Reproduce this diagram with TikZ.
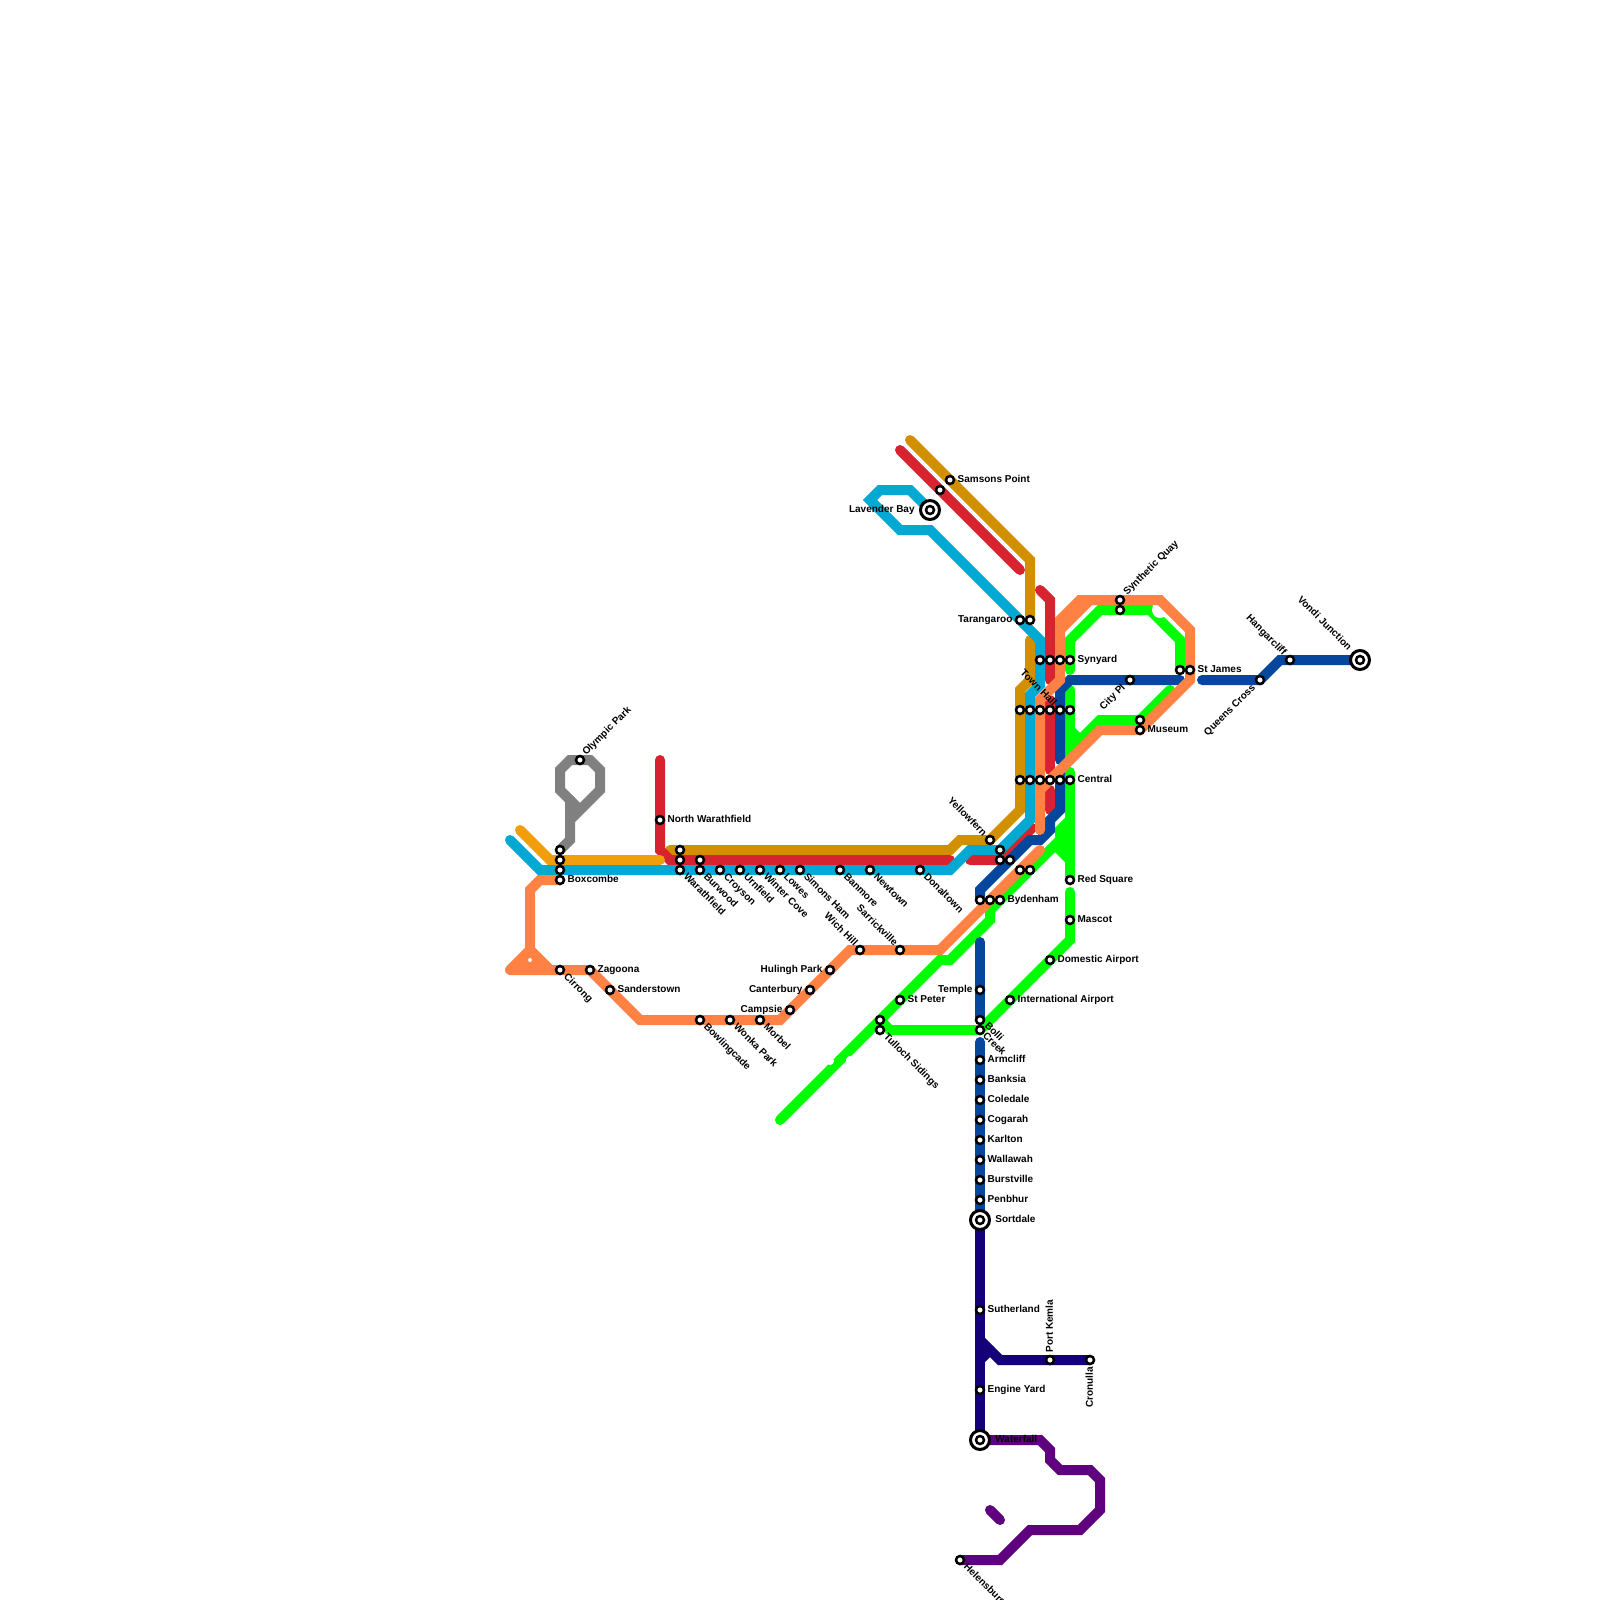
\documentclass[tikz,border=0pt]{standalone}
\usepackage{fontspec}
\setmainfont{Liberation Sans}
\usetikzlibrary{positioning,backgrounds}
\definecolor{golddk}{HTML}{D29000}
\definecolor{goldlt}{HTML}{F09E0C}
\definecolor{redln}{HTML}{D7232F}
\definecolor{cyanln}{HTML}{03A8D3}
\definecolor{orangeln}{HTML}{FF8244}
\definecolor{greenln}{HTML}{00FF00}
\definecolor{blueln}{HTML}{04479C}
\definecolor{navyln}{HTML}{140078}
\definecolor{purpleln}{HTML}{5F007F}
\definecolor{greyln}{HTML}{808080}
\begin{document}
\begin{tikzpicture}[x=0.5pt,y=-0.5pt,
  stn/.style={circle, draw, fill=white, line width=1.25pt, minimum size=4pt, inner sep=0pt},
  term/.style={circle, draw, fill=white, line width=1.5pt, minimum size=9.5pt, inner sep=0pt},
  lbl/.style={inner sep=0pt, font=\fontsize{5pt}{6pt}\selectfont\bfseries, text height=4.2pt, text depth=1.4pt},
  lblse/.style={lbl, rotate=-45, anchor=west},
  lblnw/.style={lbl, rotate=-45, anchor=east},
  lblne/.style={lbl, rotate=45, anchor=west},
  lblsw/.style={lbl, rotate=45, anchor=east},
  ln/.style={line width=5pt, line cap=round, line join=miter}]
\useasboundingbox (0,0) rectangle (1600,1600);
% north shore
\node[stn] (sam) at (950,480) {};
\node[stn] (sam2) at (940,490) {};
\node[term] (lavo) at (930,510) {};
\node[stn] (lav) at (930,510) {};
\node[stn] (tar) at (1020,620) {};
\node[stn] (tar2) at (1030,620) {};
\node[lbl, right=1pt of sam] (samT) {Samsons Point};
\node[lbl, left=2pt of lavo] (lavT) {Lavender Bay};
\node[lbl, left=1pt of tar] (tarT) {Tarangaroo};
% city rows
\node[stn] (syn1) at (1040,660) {};
\node[stn] (syn2) at (1050,660) {};
\node[stn] (syn3) at (1060,660) {};
\node[stn] (syn) at (1070,660) {};
\node[lbl, right=1pt of syn] (synT) {Synyard};
\node[stn] (twn1) at (1020,710) {};
\node[stn] (twn2) at (1030,710) {};
\node[stn] (twn3) at (1040,710) {};
\node[stn] (twn4) at (1050,710) {};
\node[stn] (twn) at (1060,710) {};
\node[stn] (twn6) at (1070,710) {};
\node[lblnw] (twnT) at ([shift={(-5,-5)}]twn) {Town Hall};
\node[stn] (cen1) at (1020,780) {};
\node[stn] (cen2) at (1030,780) {};
\node[stn] (cen3) at (1040,780) {};
\node[stn] (cen4) at (1050,780) {};
\node[stn] (cen5) at (1060,780) {};
\node[stn] (cen) at (1070,780) {};
\node[lbl, right=1pt of cen] (cenT) {Central};
% city circle and east
\node[stn] (qua) at (1120,600) {};
\node[stn] (qua2) at (1120,610) {};
\node[lblne] (quaT) at ([shift={(5,-6)}]qua) {Synthetic Quay};
\node[stn] (jam2) at (1180,670) {};
\node[stn] (jam) at (1190,670) {};
\node[lbl, right=1pt of jam] (jamT) {St James};
\node[stn] (pl) at (1130,680) {};
\node[lblsw] (plT) at ([shift={(-6,6)}]pl) {City Pl};
\node[stn] (mus2) at (1140,720) {};
\node[stn] (mus) at (1140,730) {};
\node[lbl, right=1pt of mus] (musT) {Museum};
\node[stn] (que) at (1260,680) {};
\node[lblsw] (queT) at ([shift={(-6,6)}]que) {Queens Cross};
\node[stn] (han) at (1290,660) {};
\node[lblnw] (hanT) at ([shift={(-5,-6)}]han) {Hangarcliff};
\node[term] (vono) at (1360,660) {};
\node[stn] (von) at (1360,660) {};
\node[lblnw] (vonT) at ([shift={(-10,-11)}]von) {Vondi Junction};
% inner west
\node[stn] (oly) at (580,760) {};
\node[lblne] (olyT) at ([shift={(4,-6)}]oly) {Olympic Park};
\node[stn] (box1) at (560,850) {};
\node[stn] (box2) at (560,860) {};
\node[stn] (box3) at (560,870) {};
\node[stn] (box) at (560,880) {};
\node[lbl, right=1pt of box] (boxT) {Boxcombe};
\node[stn] (nwa) at (660,820) {};
\node[lbl, right=1pt of nwa] (nwaT) {North Warathfield};
\node[stn] (war1) at (680,850) {};
\node[stn] (war2) at (680,860) {};
\node[stn] (war) at (680,870) {};
\node[lblse] (warT) at ([shift={(5,5)}]war) {Warathfield};
\node[stn] (bur2) at (700,860) {};
\node[stn] (bur) at (700,870) {};
\node[lblse] (burT) at ([shift={(5,5)}]bur) {Burwood};
\node[stn] (cro) at (720,870) {};
\node[lblse] (croT) at ([shift={(5,5)}]cro) {Croyson};
\node[stn] (urn) at (740,870) {};
\node[lblse] (urnT) at ([shift={(5,5)}]urn) {Urnfield};
\node[stn] (win) at (760,870) {};
\node[lblse] (winT) at ([shift={(5,5)}]win) {Winter Cove};
\node[stn] (low) at (780,870) {};
\node[lblse] (lowT) at ([shift={(5,5)}]low) {Lowes};
\node[stn] (sim) at (800,870) {};
\node[lblse] (simT) at ([shift={(5,5)}]sim) {Simons Ham};
\node[stn] (ban) at (840,870) {};
\node[lblse] (banT) at ([shift={(5,5)}]ban) {Banmore};
\node[stn] (new) at (870,870) {};
\node[lblse] (newT) at ([shift={(5,5)}]new) {Newtown};
\node[stn] (don) at (920,870) {};
\node[lblse] (donT) at ([shift={(5,5)}]don) {Donaltown};
% bankstown side
\node[stn] (cir) at (560,970) {};
\node[lblse] (cirT) at ([shift={(5,5)}]cir) {Cirrong};
\node[stn] (zag) at (590,970) {};
\node[lbl, right=1pt of zag] (zagT) {Zagoona};
\node[stn] (san) at (610,990) {};
\node[lbl, right=1pt of san] (sanT) {Sanderstown};
\node[stn] (bow) at (700,1020) {};
\node[lblse] (bowT) at ([shift={(5,5)}]bow) {Bowlingcade};
\node[stn] (wok) at (730,1020) {};
\node[lblse] (wokT) at ([shift={(5,5)}]wok) {Wonka Park};
\node[stn] (mor) at (760,1020) {};
\node[lblse] (morT) at ([shift={(5,5)}]mor) {Morbel};
\node[stn] (cam) at (790,1010) {};
\node[lbl, left=1pt of cam] (camT) {Campsie};
\node[stn] (can) at (810,990) {};
\node[lbl, left=1pt of can] (canT) {Canterbury};
\node[stn] (hul) at (830,970) {};
\node[lbl, left=1pt of hul] (hulT) {Hulingh Park};
\node[stn] (wic) at (860,950) {};
\node[lblnw] (wicT) at ([shift={(-4,-5)}]wic) {Wich Hill};
\node[stn] (sar) at (900,950) {};
\node[lblnw] (sarT) at ([shift={(-4,-5)}]sar) {Sarrickville};
% junction
\node[stn] (yel) at (990,840) {};
\node[lblnw] (yelT) at ([shift={(-5,-5)}]yel) {Yellowfern};
\node[stn] (jn1) at (1000,850) {};
\node[stn] (jn2) at (1000,860) {};
\node[stn] (jn3) at (1010,860) {};
\node[stn] (jn4) at (1020,870) {};
\node[stn] (jn5) at (1030,870) {};
\node[stn] (byd1) at (980,900) {};
\node[stn] (byd2) at (990,900) {};
\node[stn] (byd) at (1000,900) {};
\node[lbl, right=1pt of byd] (bydT) {Bydenham};
\node[stn] (red) at (1070,880) {};
\node[lbl, right=1pt of red] (redT) {Red Square};
\node[stn] (mas) at (1070,920) {};
\node[lbl, right=1pt of mas] (masT) {Mascot};
\node[stn] (dom) at (1050,960) {};
\node[lbl, right=1pt of dom] (domT) {Domestic Airport};
\node[stn] (int) at (1010,1000) {};
\node[lbl, right=1pt of int] (intT) {International Airport};
\node[stn] (pet) at (900,1000) {};
\node[lbl, right=1pt of pet] (petT) {St Peter};
\node[stn] (tul2) at (880,1020) {};
\node[stn] (tul) at (880,1030) {};
\node[lblse] (tulT) at ([shift={(5,5)}]tul) {Tulloch Sidings};
% south line
\node[stn] (tem) at (980,990) {};
\node[lbl, left=1pt of tem] (temT) {Temple};
\node[stn] (bol) at (980,1020) {};
\node[lblse] (bolT) at ([shift={(6,4)}]bol) {Bolli};
\node[stn] (cre) at (980,1030) {};
\node[lblse] (creT) at ([shift={(4,4)}]cre) {Creek};
\node[stn] (arm) at (980,1060) {};
\node[lbl, right=1pt of arm] (armT) {Armcliff};
\node[stn] (bak) at (980,1080) {};
\node[lbl, right=1pt of bak] (bakT) {Banksia};
\node[stn] (col) at (980,1100) {};
\node[lbl, right=1pt of col] (colT) {Coledale};
\node[stn] (cog) at (980,1120) {};
\node[lbl, right=1pt of cog] (cogT) {Cogarah};
\node[stn] (kar) at (980,1140) {};
\node[lbl, right=1pt of kar] (karT) {Karlton};
\node[stn] (wal) at (980,1160) {};
\node[lbl, right=1pt of wal] (walT) {Wallawah};
\node[stn] (bus) at (980,1180) {};
\node[lbl, right=1pt of bus] (busT) {Burstville};
\node[stn] (pen) at (980,1200) {};
\node[lbl, right=1pt of pen] (penT) {Penbhur};
\node[term] (soro) at (980,1220) {};
\node[stn] (sor) at (980,1220) {};
\node[lbl, right=2pt of soro] (sorT) {Sortdale};
\node[stn] (sut) at (980,1310) {};
\node[lbl, right=1pt of sut] (sutT) {Sutherland};
\node[stn] (kem) at (1050,1360) {};
\node[lbl, rotate=90, anchor=west] (kemT) at ([shift={(0,-7)}]kem) {Port Kemla};
\node[stn] (cru) at (1090,1360) {};
\node[lbl, rotate=90, anchor=east] (cruT) at ([shift={(0,7)}]cru) {Cronulla};
\node[stn] (eng) at (980,1390) {};
\node[lbl, right=1pt of eng] (engT) {Engine Yard};
\node[term] (wato) at (980,1440) {};
\node[stn] (wat) at (980,1440) {};
\node[lbl, right=2pt of wato] (watT) {Waterfall};
\node[stn] (hel) at (960,1560) {};
\node[lblse] (helT) at ([shift={(5,5)}]hel) {Helensburgh};
% free line ends
\coordinate (gdN) at (910,440);
\coordinate (gdE) at (1030,620);
\coordinate (gdS) at (1030,640);
\coordinate (gdW) at (670,850);
\coordinate (gltW) at (520,830);
\coordinate (gltE) at (660,860);
\coordinate (rdN) at (900,450);
\coordinate (rdE) at (1020,570);
\coordinate (rd2N) at (1040,590);
\coordinate (rd2S) at (1050,680);
\coordinate (rd3N) at (1050,700);
\coordinate (rd3S) at (1050,770);
\coordinate (rd4N) at (1050,790);
\coordinate (rd4S) at (1050,810);
\coordinate (rd5N) at (1032,828);
\coordinate (rd5W) at (970,860);
\coordinate (rdW) at (660,760);
\coordinate (rdT) at (950,860);
\coordinate (cyW) at (510,840);
\coordinate (cyN) at (1040,685);
\coordinate (gyE) at (570,820);
\coordinate (gyA) at (570,800);
\coordinate (gyB) at (577,807);
\coordinate (orE) at (1040,850);
\coordinate (orS) at (1040,830);
\coordinate (orJ) at (1060,630);
\coordinate (orK) at (1090,600);
\coordinate (orA) at (530,950);
\coordinate (orB) at (510,970);
\coordinate (orC) at (550,970);
\coordinate (gnW) at (780,1120);
\coordinate (gnN) at (840,1060);
\coordinate (gnJ) at (1060,840);
\coordinate (gnT) at (1070,772);
\coordinate (gnS) at (1070,892);
\coordinate (gnA) at (1070,690);
\coordinate (gnB) at (1070,760);
\coordinate (gnI) at (1070,750);
\coordinate (gnC) at (1070,730);
\coordinate (gnK) at (1080,740);
\coordinate (gnD) at (1170,690);
\coordinate (gnE) at (1070,670);
\coordinate (gnF) at (1180,670);
\coordinate (gnG) at (1070,820);
\coordinate (gnH) at (1070,860);
\coordinate (blW) at (1060,760);
\coordinate (blE) at (1180,680);
\coordinate (bl2) at (1202,680);
\coordinate (bl3) at (1060,772);
\coordinate (bl4) at (980,942);
\coordinate (bl5) at (980,1042);
\coordinate (nvB) at (980,1340);
\coordinate (nvC) at (980,1360);
\coordinate (nvD) at (990,1350);
\coordinate (puA) at (990,1510);
\coordinate (puB) at (1000,1520);
\coordinate (hole) at (530,960);
\coordinate (blob) at (1160,610);
\coordinate (nick1) at (830,1061);
\coordinate (nick2) at (850,1060);
\begin{scope}[on background layer]
% gold
\draw[ln, golddk] (gdN) -- (1030,560) -- (gdE);
\draw[ln, golddk] (gdS) -- (1030,680) -- (1020,690) -- (1020,810) -- (990,840) -- (960,840) -- (950,850) -- (gdW);
% red
\draw[ln, redln] (rdN) -- (rdE);
\draw[ln, redln] (rd2N) -- (1050,600) -- (rd2S);
\draw[ln, redln] (rd3N) -- (rd3S);
\draw[ln, redln] (rd4N) -- (rd4S);
\draw[ln, redln] (rd5N) -- (1000,860) -- (rd5W);
\draw[ln, redln] (rdW) -- (660,850) -- (670,860) -- (rdT);
\draw[ln, goldlt] (gltW) -- (550,860) -- (gltE);
% cyan
\draw[ln, cyanln] (cyW) -- (540,870) -- (950,870) -- (970,850) -- (1000,850) -- (1030,820) -- (1030,695) -- (cyN) -- (1040,640) -- (930,530) -- (900,530) -- (870,500) -- (880,490) -- (910,490) -- (lav.center);
% grey
\draw[ln, greyln] (box1.center) -- (570,840) -- (570,800) -- (560,790) -- (560,770) -- (570,760) -- (590,760) -- (600,770) -- (600,790) -- (gyE);
\draw[ln, greyln] (gyA) -- (gyB);
% green
\draw[ln, greenln] (gnW) -- (gnN) -- (940,960) -- (950,960) -- (990,920) -- (990,910) -- (gnJ);
\fill[white] (nick1) circle (2pt);
\fill[white] (nick2) circle (2pt);
\draw[ln, greenln] (gnG) -- (1060,830) -- (1060,850) -- (gnH);
\draw[ln, greenln] (gnT) -- (red.center);
\draw[ln, greenln] (gnS) -- (1070,940) -- (990,1020) -- (980,1030) -- (890,1030) -- (tul2.center);
\draw[ln, greenln] (gnA) -- (gnB);
\draw[ln, greenln] (gnI) -- (1100,720) -- (1140,720) -- (gnD);
\draw[ln, greenln] (gnC) -- (gnK);
\draw[ln, greenln] (gnE) -- (1070,640) -- (1100,610) -- (1150,610) -- (1180,640) -- (gnF);
\fill[white] (blob) circle (4pt);
% blue
\draw[ln, blueln] (blW) -- (1060,690) -- (1070,680) -- (blE);
\draw[ln, blueln] (bl2) -- (que.center) -- (1280,660) -- (von.center);
\draw[ln, blueln] (bl3) -- (1060,810) -- (1050,820) -- (1050,830) -- (1040,840) -- (1030,840) -- (980,890) -- (byd1.center);
\draw[ln, blueln] (bl4) -- (bol.center);
\draw[ln, blueln] (bl5) -- (sor.center);
% navy
\draw[ln, navyln] (sor.center) -- (wat.center);
\draw[ln, navyln] (nvB) -- (1000,1360) -- (cru.center);
\draw[ln, navyln] (nvC) -- (nvD);
% purple
\draw[ln, purpleln] (wat.center) -- (1040,1440) -- (1050,1450) -- (1050,1460) -- (1060,1470) -- (1090,1470) -- (1100,1480) -- (1100,1510) -- (1080,1530) -- (1030,1530) -- (1000,1560) -- (hel.center);
\draw[ln, purpleln] (puA) -- (puB);
% orange
\draw[ln, orangeln] (box.center) -- (540,880) -- (530,890) -- (orA) -- (orC) -- (590,970) -- (640,1020) -- (780,1020) -- (850,950) -- (940,950) -- (orE);
\draw[ln, orangeln, fill=orangeln, line join=round] (orA) -- (orB) -- (orC) -- cycle;
\fill[white] (hole) circle (1pt);
\draw[ln, orangeln] (orS) -- (1040,700) -- (1060,680) -- (1060,620) -- (1080,600) -- (1160,600) -- (1190,630) -- (1190,680) -- (1140,730) -- (1100,730) -- (1040,790) -- (orS);
\draw[ln, orangeln] (orJ) -- (orK);
\end{scope}
\end{tikzpicture}
\end{document}
